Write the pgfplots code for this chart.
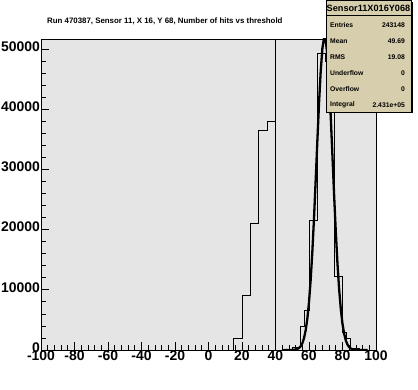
\documentclass[border=0pt]{standalone}
\usepackage{fontspec}
\setmainfont{Liberation Sans}
\usepackage{pgfplots}
\pgfplotsset{compat=1.18}
\definecolor{framegray}{RGB}{229,229,229}
\definecolor{statbg}{RGB}{214,206,172}
\begin{document}
\begin{tikzpicture}[x=1bp,y=1bp]
\path[use as bounding box] (0,0) rectangle (418,390);
\begin{axis}[
  at={(41bp,40bp)}, anchor=south west,
  scale only axis, width=335bp, height=311bp,
  xmin=-100, xmax=100, ymin=0, ymax=51667,
  axis background/.style={fill=framegray},
  axis line style={black, line width=0.8bp},
  xtick={-100,-80,...,100}, ytick={0,10000,...,50000},
  minor x tick num=4, minor y tick num=4,
  tick pos=left, tick align=inside,
  major tick length=8bp, minor tick length=4.5bp,
  every tick/.style={black, line width=0.75bp},
  scaled y ticks=false, scaled x ticks=false,
  /pgf/number format/1000 sep={},
  /pgf/number format/assume math mode=true,
  ticklabel style={font=\bfseries\fontsize{14}{14}\selectfont, inner sep=1bp},
  yticklabel style={yshift=2.5bp},
  clip=true,
]
\addplot[const plot, black, line width=0.8bp] coordinates {
(-100,0) (15,1950) (20,9000) (25,20950) (30,36450) (35,38000) (40,0)
(45,150) (50,500) (55,4000) (57.5,6600) (60,21600) (65,49300) (70,48000)
(75,12200) (80,3000) (82.5,1950) (85,200) (90,0) (100,0)};
\addplot[black, line width=0.8bp] coordinates {(40,0) (40,51667)};
\addplot[black, line width=2.3bp, line join=round] coordinates {
(45,0) (47,1) (49,7) (50,16) (51,36) (52,79) (53,163) (54,323) (55,615)
(56,1119) (57,1950) (58,3255) (59,5200) (60,7955) (61,11660) (62,16360)
(63,21975) (64,28270) (65,34810) (66,41060) (67,46360) (68,50130) (69,51900)
(70,51450) (71,48840) (72,44390) (73,38640) (74,32200) (75,25690) (76,19630)
(77,14360) (78,10060) (79,6750) (80,4333) (81,2665) (82,1570) (83,885)
(84,478) (85,247) (86,122) (87,58) (88,26) (90,5) (92,0) (95,0)};
\end{axis}
% title
\node[anchor=west, inner sep=0pt, font=\bfseries\fontsize{7.9}{8}\selectfont] at (47,369)
  {Run 470387, Sensor 11, X 16, Y 68, Number of hits vs threshold};
% stat box
\fill[black] (328,276.5) rectangle (412.5,388);
\filldraw[fill=statbg, draw=black, line width=0.8bp] (326,278) rectangle (411,390);
\draw[black, line width=0.8bp] (326,375) -- (411,375);
\node[inner sep=0pt, font=\bfseries\fontsize{9.2}{10}\selectfont] at (368.5,382) {Sensor11X016Y068};
\begin{scope}[every node/.style={inner sep=0pt, font=\bfseries\fontsize{6.8}{7}\selectfont}]
\node[anchor=west] at (330,365) {Entries};
\node[anchor=east] at (405,365) {243148};
\node[anchor=west] at (330,349) {Mean};
\node[anchor=east] at (405,349) {49.69};
\node[anchor=west] at (330,333) {RMS};
\node[anchor=east] at (405,333) {19.08};
\node[anchor=west] at (330,317) {Underflow};
\node[anchor=east] at (405,317) {0};
\node[anchor=west] at (330,301) {Overflow};
\node[anchor=east] at (405,301) {0};
\node[anchor=west] at (330,285) {Integral};
\node[anchor=east] at (405,285) {2.431e+05};
\end{scope}
\end{tikzpicture}
\end{document}
